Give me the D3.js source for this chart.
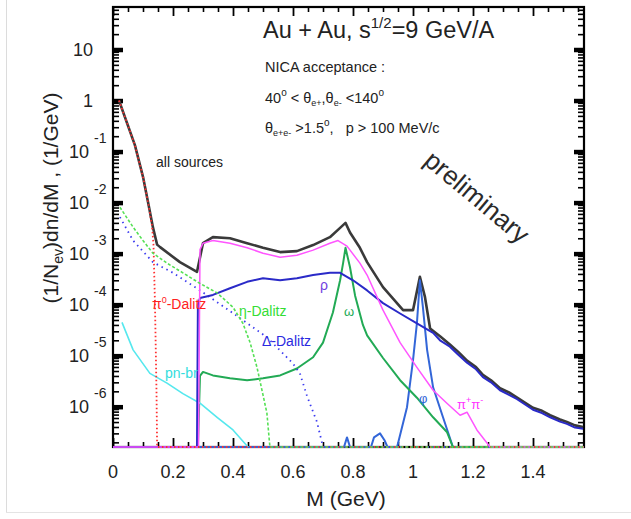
<!DOCTYPE html>
<html><head><meta charset="utf-8">
<script src="https://cdn.jsdelivr.net/npm/d3@7"></script>
<style>body{margin:0;background:#fff} text{font-family:"Liberation Sans",Arial,Helvetica,sans-serif; white-space:pre}</style>
</head><body><svg id="c" width="631" height="519"></svg>
<script>
// ---------------- data (M in GeV, dn/dM in 1/GeV); 1e-8 = below plotted range ----------------
const allM   = [0.02,0.073,0.10,0.117,0.133,0.147,0.157,0.223,0.28,0.30,0.333,0.39,0.447,0.5,0.557,0.613,0.667,0.723,0.757,0.775,0.79,0.823,0.847,0.9,0.967,1.0,1.023,1.04,1.057,1.09,1.123,1.15,1.18,1.21,1.233,1.26,1.29,1.32,1.347,1.4,1.43,1.457,1.49,1.513,1.54,1.567];
const allV   = [1.0,0.134,0.032,0.01,0.0033,0.0015,0.00134,6.8e-4,4.4e-4,1.6e-3,2.1e-3,2.0e-3,1.6e-3,1.3e-3,1.07e-3,1.12e-3,1.47e-3,2.1e-3,3.2e-3,4.0e-3,2.6e-3,1.3e-3,6.8e-4,2.2e-4,7.8e-5,7.8e-5,3.5e-4,1.4e-4,3.4e-5,2.4e-5,1.65e-5,1.2e-5,8.0e-6,6.0e-6,4.2e-6,3.3e-6,2.3e-6,1.9e-6,1.5e-6,9.5e-7,8.3e-7,6.8e-7,5.6e-7,5.0e-7,4.3e-7,4.0e-7];
const rhoM   = [0,0.28,0.283,0.29,0.333,0.39,0.447,0.5,0.557,0.613,0.667,0.723,0.757,0.8,0.847,0.9,0.957,1.013,1.067,1.09,1.123,1.15,1.18,1.21,1.233,1.26,1.29,1.32,1.347,1.4,1.43,1.457,1.49,1.513,1.54,1.567];
const rhoV   = [1e-8,1e-8,1.0e-4,1.35e-4,1.55e-4,2.1e-4,2.8e-4,3.3e-4,3.0e-4,3.3e-4,3.8e-4,4.2e-4,4.2e-4,3.0e-4,1.9e-4,1.07e-4,6.7e-5,4.3e-5,2.8e-5,2.0e-5,1.5e-5,1.05e-5,7.3e-6,5.4e-6,3.8e-6,3.0e-6,2.1e-6,1.7e-6,1.4e-6,8.7e-7,7.5e-7,6.2e-7,5.1e-7,4.6e-7,3.9e-7,3.7e-7];
const pipiM  = [0,0.285,0.29,0.30,0.333,0.39,0.447,0.5,0.557,0.613,0.667,0.723,0.75,0.78,0.823,0.847,0.9,0.957,1.013,1.067,1.113,1.157,1.18,1.213,1.257,1.57];
const pipiV  = [1e-8,1e-8,1.2e-3,1.6e-3,1.8e-3,1.6e-3,1.3e-3,1.02e-3,8.5e-4,9.3e-4,1.17e-3,1.6e-3,1.8e-3,1.4e-3,6.5e-4,3.8e-4,7.8e-5,1.8e-5,5.9e-6,2.1e-6,1.17e-6,6.8e-7,7.8e-7,3.5e-7,1e-8,1e-8];
const omegaM = [0,0.283,0.29,0.30,0.333,0.39,0.447,0.5,0.557,0.613,0.667,0.7,0.733,0.757,0.767,0.775,0.79,0.807,0.833,0.847,0.9,0.957,1.013,1.067,1.113,1.133,1.57];
const omegaV = [1e-8,1e-8,4.0e-6,4.8e-6,4.1e-6,3.6e-6,3.3e-6,3.6e-6,4.1e-6,5.6e-6,9.3e-6,1.8e-5,7e-5,3e-4,6.5e-4,1.3e-3,5.4e-4,1.5e-4,4e-5,2.5e-5,9.0e-6,3.3e-6,1.5e-6,6.2e-7,3.2e-7,1e-8,1e-8];
const phiM   = [0,0.77,0.78,0.79,0.86,0.87,0.89,0.905,0.915,0.947,0.98,1.0,1.013,1.023,1.033,1.047,1.067,1.1,1.133,1.57];
const phiV   = [1e-8,1e-8,2.5e-7,1e-8,1e-8,2.5e-7,3e-7,2.2e-7,1e-8,1e-8,9.8e-7,8.1e-6,4.3e-5,3e-4,8.9e-5,1.3e-5,2.4e-6,6.2e-7,1e-8,1e-8];
const etaM   = [0.023,0.067,0.1,0.133,0.18,0.233,0.29,0.347,0.4,0.433,0.457,0.48,0.5,0.513,0.523,1.57];
const etaV   = [8.1e-3,3.3e-3,1.8e-3,1.02e-3,6.5e-4,4.2e-4,2.6e-4,1.7e-4,8.9e-5,4.3e-5,1.8e-5,5.9e-6,1.7e-6,7.5e-7,1e-8,1e-8];
const deltaM = [0.023,0.067,0.133,0.2,0.29,0.4,0.513,0.6,0.623,0.647,0.68,0.7,1.57];
const deltaV = [5.2e-3,1.8e-3,6.8e-4,4.2e-4,1.9e-4,6.8e-5,2.3e-5,7e-6,4.5e-6,1.6e-6,5e-7,1e-8,1e-8];
const pi0M   = [0.02,0.073,0.10,0.117,0.13,0.135,0.14,0.145,0.147,1.57];
const pi0V   = [1.0,0.134,0.032,0.01,0.0035,1.5e-3,1e-4,2e-6,1e-8,1e-8];
const pnM    = [0.03,0.067,0.123,0.18,0.233,0.29,0.347,0.4,0.45];
const pnV    = [4.5e-5,1.3e-5,4.5e-6,2.9e-6,1.8e-6,1.17e-6,6.2e-7,3.5e-7,1e-8];

const xMajor = [0,0.2,0.4,0.6,0.8,1.0,1.2,1.4];
const xLabels = ["0","0.2","0.4","0.6","0.8","1","1.2","1.4"];
const yExp = [1,0,-1,-2,-3,-4,-5,-6];

// ---------------- layout ----------------
const svg = d3.select("#c");
const X0=113, X1=584, Y0=447, Y1=7;
const x = d3.scaleLinear().domain([0,1.57]).range([X0,X1]);
const y = d3.scaleLog().domain([Math.pow(10,-6.79), Math.pow(10,1.833)]).range([Y0,Y1]).clamp(true);

// outer light border like the screenshot
svg.append("line").attr("x1",6.5).attr("x2",6.5).attr("y1",0).attr("y2",512).attr("stroke","#dcdcdc");
svg.append("line").attr("x1",6).attr("x2",631).attr("y1",512.5).attr("y2",512.5).attr("stroke","#e4e4e4");

// ticks
const xMinor = d3.range(0,1.5701,0.05).map(v=>+v.toFixed(2)).filter(v=>!xMajor.some(m=>Math.abs(m-v)<1e-6));
const yMajorVals = yExp.map(e=>Math.pow(10,e));
const yMinorVals = [];
for (let e=-7;e<=1;e++) for (let k=2;k<=9;k++){const v=k*Math.pow(10,e); if(v>y.domain()[0]&&v<y.domain()[1]) yMinorVals.push(v);}

function axisG(axis, tr, sw){
  const g = svg.append("g").attr("transform",tr).call(axis);
  g.select(".domain").remove();
  g.selectAll("line").attr("stroke","#000").attr("stroke-width",sw);
  g.selectAll("text").remove();
  return g;
}
axisG(d3.axisBottom(x).tickValues(xMinor).tickSize(-5), `translate(0,${Y0})`, 1.6);
axisG(d3.axisBottom(x).tickValues(xMajor).tickSize(-9), `translate(0,${Y0})`, 1.8);
axisG(d3.axisTop(x).tickValues(xMinor).tickSize(-5), `translate(0,${Y1})`, 1.6);
axisG(d3.axisTop(x).tickValues(xMajor).tickSize(-9), `translate(0,${Y1})`, 1.8);
axisG(d3.axisLeft(y).tickValues(yMinorVals).tickSize(-6), `translate(${X0},0)`, 1.6);
axisG(d3.axisLeft(y).tickValues(yMajorVals).tickSize(-10), `translate(${X0},0)`, 4.5);
axisG(d3.axisRight(y).tickValues(yMinorVals).tickSize(-6), `translate(${X1},0)`, 1.6);
axisG(d3.axisRight(y).tickValues(yMajorVals).tickSize(-10), `translate(${X1},0)`, 4.5);

svg.append("rect").attr("x",X0).attr("y",Y1).attr("width",X1-X0).attr("height",Y0-Y1)
  .attr("fill","none").attr("stroke","#000").attr("stroke-width",2.2);

// tick labels
svg.append("g").selectAll("text").data(xMajor).join("text")
  .attr("x",(d)=>x(d)).attr("y",478).attr("text-anchor","middle").attr("font-size",18).attr("fill","#222")
  .text((d,i)=>xLabels[i]);
const yl = svg.append("g").selectAll("text").data(yExp).join("text")
  .attr("y",d=>y(Math.pow(10,d))+6).attr("font-size",18).attr("fill","#222");
yl.each(function(e){
  const t=d3.select(this);
  if(e===0){t.attr("x",93).attr("text-anchor","end").text("1");}
  else if(e===1){t.attr("x",93).attr("text-anchor","end").text("10");}
  else{
    t.attr("x",69).text("10");
    t.append("tspan").attr("font-size",14).attr("dx",5).attr("dy",-15).text(String(e));
  }
});

// axis titles
svg.append("text").attr("x",346).attr("y",506).attr("text-anchor","middle").attr("font-size",21).attr("fill","#222").text("M (GeV)");
const yt = svg.append("text").attr("transform","translate(58,198) rotate(-90)").attr("text-anchor","middle").attr("font-size",21).attr("fill","#222");
yt.append("tspan").text("(1/N");
yt.append("tspan").attr("font-size",14).attr("dy",5).text("ev");
yt.append("tspan").attr("dy",-5).text(")dn/dM , (1/GeV)");

// curves (drawn bottom to top)
const line = d3.line().x(d=>x(d[0])).y(d=>y(d[1]));
const zip = (a,b)=>a.map((m,i)=>[m,b[i]]);
const series = [
  {M:allM, V:allV, c:"#3a3a3a", w:2.6, dash:null},
  {M:phiM, V:phiV, c:"#3366d8", w:2, dash:null},
  {M:omegaM, V:omegaV, c:"#22aa55", w:2, dash:null},
  {M:pnM, V:pnV, c:"#55e8ee", w:1.6, dash:null},
  {M:deltaM, V:deltaV, c:"#3b3bf0", w:1.8, dash:"1.5,4"},
  {M:rhoM, V:rhoV, c:"#2a2ac8", w:2, dash:null},
  {M:pipiM, V:pipiV, c:"#ff55ff", w:1.5, dash:null},
  {M:pi0M, V:pi0V, c:"#ff3030", w:1.8, dash:"1.5,2.5"},
  {M:etaM, V:etaV, c:"#55e055", w:1.6, dash:"3,2"}
];
const cg = svg.append("g");
series.forEach(s=>{
  cg.append("path").attr("d",line(zip(s.M,s.V))).attr("fill","none").attr("stroke",s.c)
    .attr("stroke-width",s.w).attr("stroke-dasharray",s.dash).attr("stroke-linejoin","round");
});

// annotations
svg.append("text").attr("x",263).attr("y",38).attr("font-size",23.5).attr("fill","#222")
  .call(t=>{t.append("tspan").text("Au + Au, s");t.append("tspan").attr("font-size",15).attr("dy",-10).text("1/2");t.append("tspan").attr("dy",10).text("=9 GeV/A");});
const small = (xx,yy)=>svg.append("text").attr("x",xx).attr("y",yy).attr("font-size",14.5).attr("fill","#222");
small(265,72).text("NICA acceptance :");
small(265,103).call(t=>{
  t.append("tspan").text("40");t.append("tspan").attr("font-size",10).attr("dy",-7).text("o");
  t.append("tspan").attr("dy",7).text(" < θ");t.append("tspan").attr("font-size",9).attr("dy",3).text("e+");
  t.append("tspan").attr("dy",-3).text(",θ");t.append("tspan").attr("font-size",9).attr("dy",3).text("e-");
  t.append("tspan").attr("dy",-3).text(" <140");t.append("tspan").attr("font-size",10).attr("dy",-7).text("o");
});
small(265,133).call(t=>{
  t.append("tspan").text("θ");t.append("tspan").attr("font-size",9).attr("dy",3).text("e+e-");
  t.append("tspan").attr("dy",-3).text(" >1.5");t.append("tspan").attr("font-size",10).attr("dy",-7).text("o");
  t.append("tspan").attr("dy",7).text(",   p > 100 MeV/c");
});
svg.append("text").attr("x",156).attr("y",167).attr("font-size",14).attr("fill","#222").text("all sources");
svg.append("text").attr("transform","translate(477,197) rotate(40)").attr("text-anchor","middle")
  .attr("dominant-baseline","central").attr("font-size",26).attr("fill","#2a2a2a").text("preliminary");

const lab=(xx,yy,c,fs)=>svg.append("text").attr("x",xx).attr("y",yy).attr("font-size",fs||14).attr("fill",c);
lab(152,309,"#ff2020").call(t=>{t.append("tspan").text("π");t.append("tspan").attr("font-size",9).attr("dy",-6).text("0");t.append("tspan").attr("dy",6).text("-Dalitz");});
lab(239,316,"#33dd33").text("η-Dalitz");
lab(262,346,"#2a2ae0").text("Δ-Dalitz");
lab(165,378,"#33dddd").text("pn-br");
lab(320,290,"#7040e0",14).text("ρ");
lab(344,316,"#22aa55",13).text("ω");
lab(419,403,"#3366d8",13).text("φ");
lab(457,409,"#ff33ff",13).call(t=>{t.append("tspan").text("π");t.append("tspan").attr("font-size",9).attr("dy",-6).text("+");t.append("tspan").attr("dy",6).text("π");t.append("tspan").attr("font-size",9).attr("dy",-6).text("-");});
</script></body></html>
